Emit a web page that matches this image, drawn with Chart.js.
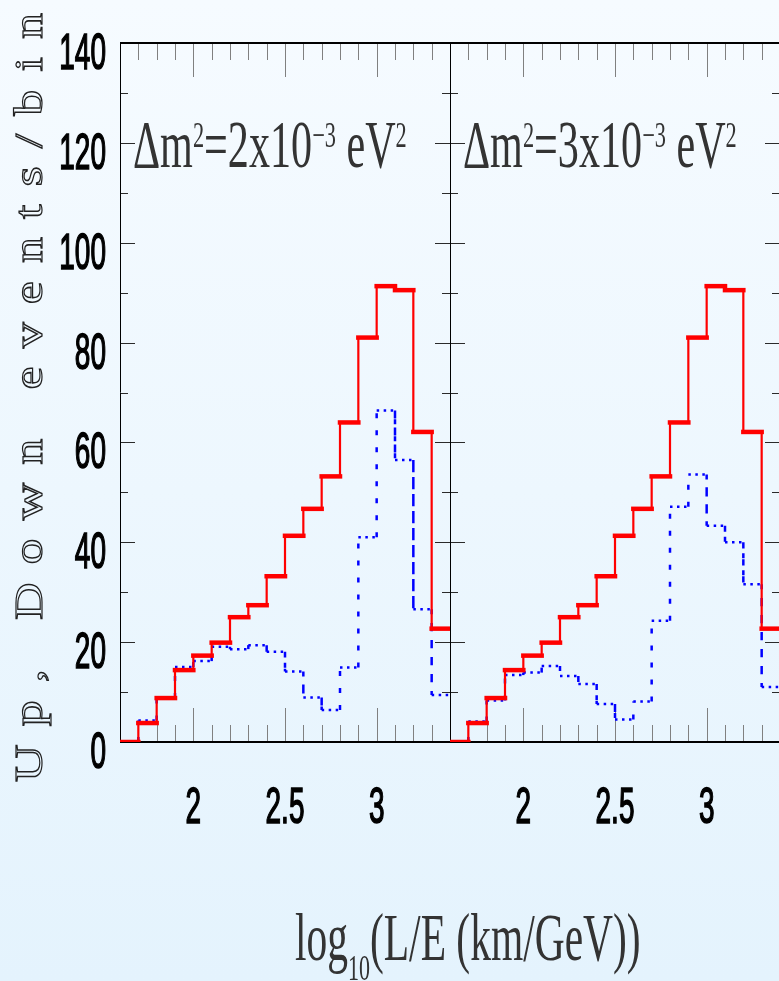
<!DOCTYPE html>
<html>
<head>
<meta charset="utf-8">
<script src="https://cdn.jsdelivr.net/npm/chart.js@4.4.1/dist/chart.umd.min.js"></script>
<style>
  html, body {
    margin: 0; padding: 0; width: 779px; height: 981px; overflow: hidden;
    background: linear-gradient(to bottom, #f6fbff 0%, #e4f3fd 100%);
  }
  canvas { position: absolute; left: 0; top: 0; }
</style>
</head>
<body>
<canvas id="panelA" width="779" height="981"></canvas>
<canvas id="panelB" width="800" height="981"></canvas>
<script>
// bins in log10(L/E), 0.1 wide
const binEdges = [1.6, 1.7, 1.8, 1.9, 2.0, 2.1, 2.2, 2.3, 2.4, 2.5, 2.6, 2.7, 2.8, 2.9, 3.0, 3.1, 3.2, 3.3, 3.4];

// expected events without oscillation (solid red)
const noOscillation = [0, 3.8, 8.8, 14.4, 17.3, 19.9, 25.0, 27.4, 33.2, 41.3, 46.7, 53.2, 64.0, 81.0, 91.3, 90.5, 62.1, 22.7];
// with oscillation (dotted blue)
const oscDm2e3 = [0, 4.3, 8.8, 15.0, 16.2, 19.1, 18.6, 19.4, 18.1, 14.1, 8.9, 6.4, 14.9, 41.0, 66.4, 56.5, 26.6, 9.4];
const oscDm3e3 = [0, 4.1, 8.3, 13.4, 13.9, 15.2, 13.2, 11.6, 7.6, 4.5, 8.1, 24.3, 47.1, 53.6, 43.3, 40.0, 31.6, 11.0];

const yTicks = [0, 20, 40, 60, 80, 100, 120, 140];
const xTickValues = [2, 2.5, 3];
const xTickLabels = ['2', '2.5', '3'];
// [text, superscript, text, superscript, text, superscript]
const panelLabels = [
  ['\u0394m', '2', '=2x10', '\u22123', ' eV', '2'],
  ['\u0394m', '2', '=3x10', '\u22123', ' eV', '2']
];
const yTitle = 'Up, Down events/bin';
const xTitle = ['log', '10', '(L/E (km/GeV))'];

function stepPoints(values) {
  const pts = [];
  values.forEach((v, i) => {
    pts.push({ x: binEdges[i], y: v });
    pts.push({ x: binEdges[i + 1], y: v });
  });
  return pts;
}

const isFlat = c => c.p0.parsed.y === c.p1.parsed.y;

function line(ctx, x1, y1, x2, y2) {
  ctx.beginPath();
  ctx.moveTo(x1, y1);
  ctx.lineTo(x2, y2);
  ctx.stroke();
}

// condensed text, drawn with a horizontal squeeze (fill plus a thin outline)
function squeezed(ctx, text, x, y, sx, align) {
  ctx.save();
  ctx.translate(x, y);
  ctx.scale(sx, 1);
  const w = ctx.measureText(text).width;
  const dx = align === 'right' ? -w : align === 'center' ? -w / 2 : 0;
  ctx.textAlign = 'left';
  ctx.fillText(text, dx, 0);
  ctx.lineWidth = 1.6;
  ctx.strokeText(text, dx, 0);
  ctx.restore();
}

const MAIN_FONT = '68px "Liberation Serif"';
const SUP_FONT = '36px "Liberation Serif"';
const TICK_FONT = '50px "Liberation Sans"';

function drawParts(ctx, parts, x, baseline, shift, sx) {
  let cx = x;
  parts.forEach((t, i) => {
    const small = i % 2 === 1;
    ctx.font = small ? SUP_FONT : MAIN_FONT;
    const y = small ? baseline + shift : baseline;
    ctx.save();
    ctx.translate(cx, y);
    ctx.scale(sx, 1);
    ctx.fillText(t, 0, 0);
    ctx.restore();
    cx += ctx.measureText(t).width * sx;
  });
}

const framePlugin = {
  id: 'frame',
  beforeDatasetsDraw(chart) {
    const { ctx, chartArea: a, scales: { x, y } } = chart;
    ctx.save();
    ctx.lineWidth = 1;
    // x ticks at every bin edge, long ones each 0.5
    ctx.strokeStyle = '#808080';
    binEdges.slice(1, -1).forEach(v => {
      const px = Math.round(x.getPixelForValue(v)) + 0.5;
      const major = Math.abs(v * 2 - Math.round(v * 2)) < 1e-6;
      const len = major ? 34 : 17;
      line(ctx, px, a.bottom, px, a.bottom - len);
      line(ctx, px, a.top, px, a.top + len);
    });
    // y ticks every 10
    ctx.strokeStyle = '#2a2a2a';
    for (let v = y.min + 10; v < y.max; v += 10) {
      const py = Math.round(y.getPixelForValue(v)) + 0.5;
      const len = v % 20 === 0 ? 15 : 8;
      line(ctx, a.left, py, a.left + len, py);
      line(ctx, a.right, py, a.right - len, py);
    }
    // box
    ctx.strokeStyle = '#000';
    ctx.lineWidth = 1;
    line(ctx, a.left + 0.5, a.top, a.left + 0.5, a.bottom);
    line(ctx, a.right + 0.5, a.top, a.right + 0.5, a.bottom);
    ctx.lineWidth = 2;
    line(ctx, a.left, a.top, a.right + 1, a.top);
    line(ctx, a.left, a.bottom, a.right + 1, a.bottom);
    ctx.restore();
  },
  afterDraw(chart, args, opts) {
    const { ctx, chartArea: a, scales: { x, y } } = chart;
    ctx.save();
    ctx.fillStyle = '#000';
    ctx.strokeStyle = '#000';
    ctx.textBaseline = 'alphabetic';
    ctx.font = TICK_FONT;
    xTickValues.forEach((v, i) => {
      squeezed(ctx, xTickLabels[i], x.getPixelForValue(v), 823, 0.56, 'center');
    });
    if (opts.axisText) {
      yTicks.forEach(v => {
        squeezed(ctx, String(v), 106, y.getPixelForValue(v) + 26, 0.56, 'right');
      });
      ctx.fillStyle = '#333';
      drawParts(ctx, xTitle, 295, 960, 20, 0.61);

      // rotated axis title, outlined wide serif
      ctx.save();
      ctx.translate(42, 782);
      ctx.rotate(-Math.PI / 2);
      ctx.font = '40px "Liberation Serif"';
      ctx.strokeStyle = '#222';
      ctx.lineWidth = 1.2;
      const stretch = 1.3;
      const chars = [...yTitle];
      const natural = chars.reduce((s, c) => s + ctx.measureText(c).width * stretch, 0);
      const gap = (769 - natural) / (chars.length - 1);
      let pos = 0;
      chars.forEach(c => {
        ctx.save();
        ctx.translate(pos, 0);
        ctx.scale(stretch, 1);
        ctx.strokeText(c, 0, 0);
        ctx.restore();
        pos += ctx.measureText(c).width * stretch + gap;
      });
      ctx.restore();
    }
    ctx.fillStyle = '#333';
    drawParts(ctx, opts.label, a.left + 13, 167, -20, 0.62);
    ctx.restore();
  }
};

function makePanel(id, oscValues, label, pad, axisText) {
  return new Chart(document.getElementById(id), {
    type: 'line',
    data: {
      datasets: [
        {
          data: stepPoints(noOscillation),
          borderColor: '#ff0000',
          borderWidth: 4.5,
          borderCapStyle: 'square',
          pointRadius: 0,
          segment: { borderWidth: c => isFlat(c) ? 4.5 : 2.2 }
        },
        {
          data: stepPoints(oscValues),
          borderColor: '#0000ff',
          borderWidth: 2.5,
          pointRadius: 0,
          segment: { borderDash: c => isFlat(c) ? [2.5, 4.5] : [5, 12] }
        }
      ]
    },
    options: {
      responsive: false,
      animation: false,
      devicePixelRatio: 1,
      layout: { padding: pad },
      scales: {
        x: { type: 'linear', min: 1.6, max: 3.4, display: false },
        y: { type: 'linear', min: 0, max: 140, display: false }
      },
      plugins: {
        legend: { display: false },
        tooltip: { enabled: false },
        frame: { label: label, axisText: axisText }
      }
    },
    plugins: [framePlugin]
  });
}

makePanel('panelA', oscDm2e3, panelLabels[0], { left: 120, right: 329, top: 43, bottom: 239 }, true);
makePanel('panelB', oscDm3e3, panelLabels[1], { left: 450, right: 20, top: 43, bottom: 239 }, false);
</script>
</body>
</html>
